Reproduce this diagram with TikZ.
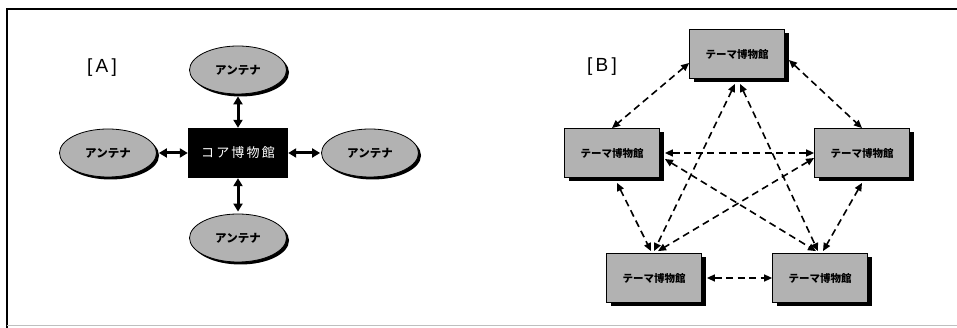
\documentclass[tikz,border=0pt]{standalone}
\usepackage{fontspec}
\setmainfont{Noto Sans CJK JP}
\newfontfamily\labfont{Liberation Sans}
\usetikzlibrary{shapes.geometric,shadows,arrows.meta,calc}
\begin{document}
\begin{tikzpicture}[x=1pt,y=1pt,
  ant/.style={ellipse,draw=black,line width=0.8pt,fill=black!30,minimum width=97pt,minimum height=48pt,inner sep=0pt,
    font=\bfseries\fontsize{11.5}{11.5}\selectfont,
    drop shadow={shadow xshift=2.5pt,shadow yshift=-2.5pt,fill=black,opacity=1}},
  thm/.style={rectangle,draw=black,line width=0.8pt,fill=black!30,minimum width=95pt,minimum height=49pt,inner sep=0pt,
    font=\bfseries\fontsize{10.5}{10.5}\selectfont,
    drop shadow={shadow xshift=4pt,shadow yshift=-4pt,fill=black,opacity=1}},
  core/.style={rectangle,fill=black,minimum width=100pt,minimum height=50pt,inner sep=0pt,text=white,
    font=\fontsize{13}{13}\selectfont},
  bi/.style={{Triangle[length=8pt,width=9pt]}-{Triangle[length=8pt,width=9pt]},line width=3pt},
  da/.style={{Triangle[length=8pt,width=7pt]}-{Triangle[length=8pt,width=7pt]},line width=1.6pt,dash pattern=on 7pt off 4.5pt},
  lab/.style={font=\labfont\fontsize{19}{19}\selectfont}
]
\useasboundingbox (0,0) rectangle (957,328);
\draw[line width=2pt] (957,319) -- (7,319) -- (7,0);
\draw[black!25,line width=1pt] (7,2) -- (957,2);

% Panel A
\node[lab] (labA) at (102,260) {[\,A\,]};
\node[core] (core) at (238,175) {コ\,ア\,博\,物\,館};
\node[ant] (at) at (238,258) {アンテナ};
\node[ant] (al) at (108,175) {アンテナ};
\node[ant] (ar) at (370,175) {アンテナ};
\node[ant] (ab) at (238,90) {アンテナ};
\draw[bi] ([yshift=-2pt]at.south) -- (core.north);
\draw[bi] ([yshift=2pt]ab.north) -- (core.south);
\draw[bi] ([xshift=2pt]al.east) -- (core.west);
\draw[bi] (core.east) -- ([xshift=-1pt]ar.west);

% Panel B
\node[lab] (labB) at (602,261) {[\,B\,]};
\node[thm] (T) at (737,274) {テーマ博物館};
\node[thm] (L) at (612,175) {テーマ博物館};
\node[thm] (R) at (862,175) {テーマ博物館};
\node[thm] (BL) at (654,50) {テーマ博物館};
\node[thm] (BR) at (820,50) {テーマ博物館};

\draw[da] ($(T.west)+(0,-9)$) -- (L.north);
\draw[da] ($(T.east)+(4,-6)$) -- (R.north);
\draw[da] ($(L.east)+(5,0)$) -- (R.west);
\draw[da] ($(L.south)+(5,-5)$) -- ($(BL.north)+(-3,2)$);
\draw[da] ($(R.south)+(0,-5)$) -- ($(BR.north)+(3,2)$);
\draw[da] ($(BL.east)+(5,0)$) -- (BR.west);
\draw[da] ($(T.south)+(-2,-5)$) -- ($(BL.north)+(0,2)$);
\draw[da] ($(T.south)+(3,-5)$) -- ($(BR.north)+(-2,2)$);
\draw[da] ($(L.east)+(5,-6)$) -- ($(BR.north)+(-4,2)$);
\draw[da] ($(R.west)+(0,-5)$) -- ($(BL.north)+(4,2)$);
\end{tikzpicture}
\end{document}
